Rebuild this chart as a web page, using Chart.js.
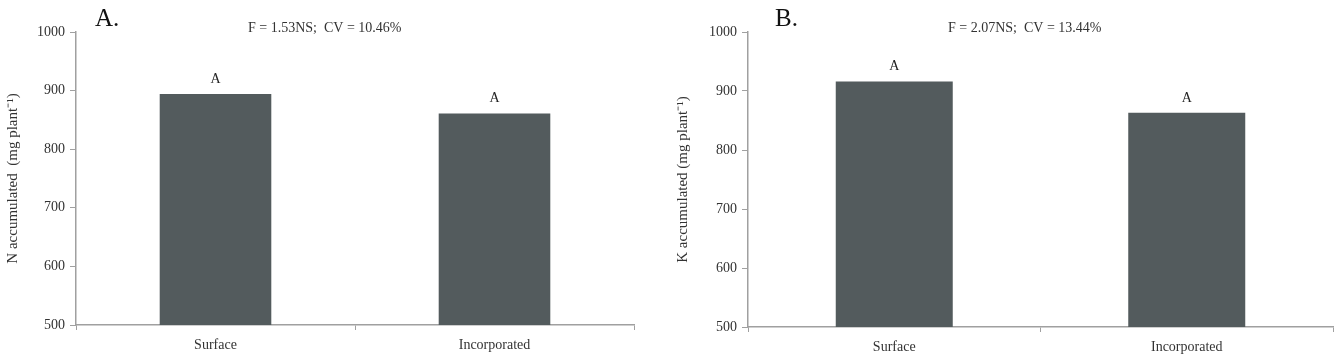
<!DOCTYPE html>
<html>
<head>
<meta charset="utf-8">
<script src="https://cdn.jsdelivr.net/npm/chart.js@4"></script>
<style>
    body { margin: 0; background: #fff; }
    .panel { position: absolute; top: 0; height: 358px; }
    #panelA { left: 0; width: 640px; }
    #panelB { left: 670px; width: 669px; }
</style>
</head>
<body>
<div class="panel" id="panelA"><canvas id="chartA"></canvas></div>
<div class="panel" id="panelB"><canvas id="chartB"></canvas></div>
<script>
const categories = ["Surface", "Incorporated"];
const nValues = [894, 861];
const kValues = [916, 863];
const nLetters = ["A", "A"];
const kLetters = ["A", "A"];
const yMin = 500;
const yMax = 1000;
const yStep = 100;

const barColor = "#535b5d";
const axisColor = "#a0a0a0";
const textColor = "#333333";
const serif = "'Liberation Serif', 'Times New Roman', serif";

// letters above bars + panel heading and stats line
const annotations = {
    id: "annotations",
    afterDatasetsDraw(chart, args, opts) {
        const ctx = chart.ctx;
        const meta = chart.getDatasetMeta(0);
        ctx.save();
        ctx.fillStyle = "#222";
        ctx.textAlign = "center";
        ctx.textBaseline = "middle";
        ctx.font = "14px " + serif;
        meta.data.forEach((bar, i) => {
            ctx.fillText(opts.letters[i], bar.x, bar.y - 15);
        });
        ctx.textAlign = "left";
        ctx.textBaseline = "alphabetic";
        ctx.fillStyle = "#111";
        ctx.font = "25px " + serif;
        ctx.fillText(opts.panel, opts.panelX, 26);
        ctx.fillStyle = textColor;
        ctx.font = "14px " + serif;
        ctx.fillText(opts.stats, opts.statsX, 32);
        ctx.restore();
    }
};

const makeChart = (id, values, letters, yTitle, panel, stats, panelX, statsX, yWidth, xHeight) => {
    const ctx = document.getElementById(id).getContext("2d");
    return new Chart(ctx, {
        type: "bar",
        data: {
            labels: categories,
            datasets: [{
                data: values,
                backgroundColor: barColor,
                barPercentage: 0.4,
                categoryPercentage: 1.0
            }]
        },
        options: {
            responsive: true,
            maintainAspectRatio: false,
            animation: false,
            layout: { padding: { top: 32, right: 6, left: 0, bottom: 0 } },
            plugins: {
                legend: { display: false },
                tooltip: { enabled: false },
                annotations: { letters: letters, panel: panel, stats: stats, panelX: panelX, statsX: statsX }
            },
            scales: {
                x: {
                    grid: { display: true, drawOnChartArea: false, drawTicks: true, tickLength: 5, color: axisColor, offset: true },
                    border: { color: axisColor, width: 1.5 },
                    ticks: { color: textColor, font: { family: serif, size: 14 }, padding: 7 },
                    afterFit: (scale) => { scale.height = xHeight; }
                },
                y: {
                    min: yMin,
                    max: yMax,
                    ticks: {
                        stepSize: yStep,
                        color: textColor,
                        font: { family: serif, size: 14 },
                        padding: 5,
                        callback: (value) => String(value)
                    },
                    grid: { display: true, drawOnChartArea: false, drawTicks: true, tickLength: 6, color: axisColor },
                    border: { color: axisColor, width: 1.5 },
                    title: { display: true, text: yTitle, color: textColor, font: { family: serif, size: 15 }, padding: { top: 4, bottom: 0 } },
                    afterFit: (scale) => { scale.width = yWidth; }
                }
            }
        },
        plugins: [annotations]
    });
};

makeChart("chartA", nValues, nLetters, "N accumulated  (mg plant\u207B\u00B9)", "A.", "F = 1.53NS;  CV = 10.46%", 95, 248, 76, 33);
makeChart("chartB", kValues, kLetters, "K accumulated (mg plant\u207B\u00B9)", "B.", "F = 2.07NS;  CV = 13.44%", 105, 278, 78, 31);
</script>
</body>
</html>
